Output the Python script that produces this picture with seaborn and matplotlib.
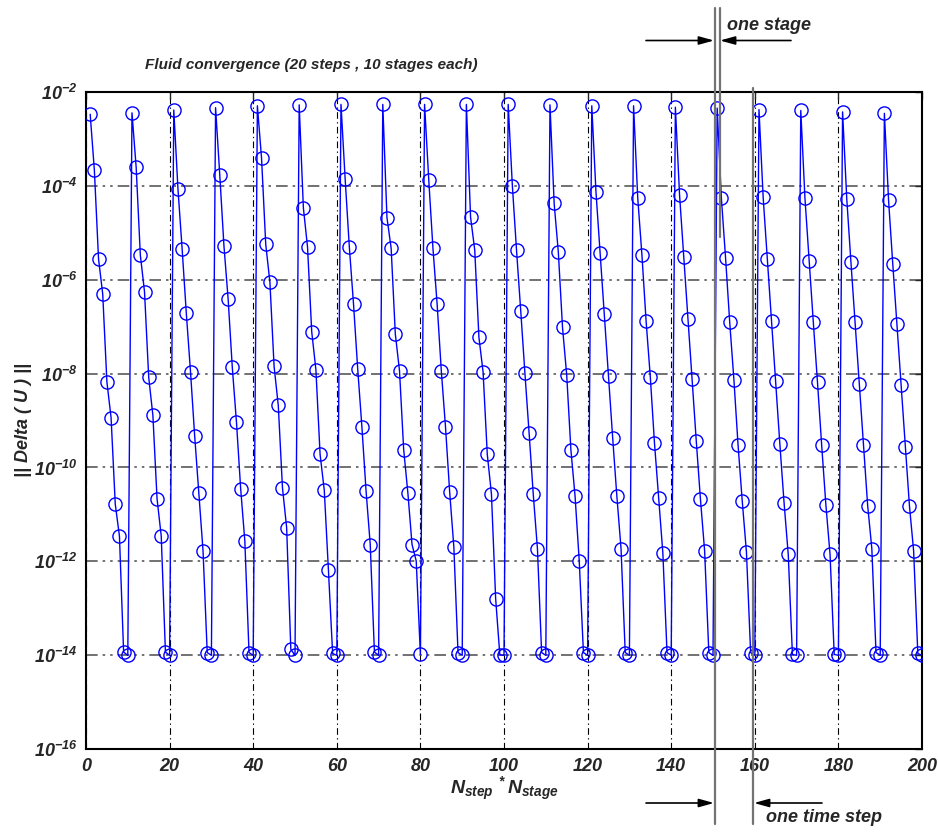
import numpy as np
import pandas as pd
import seaborn as sns
import matplotlib
matplotlib.use("Agg")
import matplotlib.pyplot as plt
from matplotlib.lines import Line2D
from matplotlib.ticker import FixedLocator, FixedFormatter, NullLocator

# log10 of ||Delta(U)|| for the 10 stages of every time step
step_01 = [-2.48, -3.67, -5.56, -6.31, -8.18, -8.94, -10.78, -11.46, -13.93, -14.00]
step_02 = [-2.45, -3.61, -5.48, -6.26, -8.08, -8.89, -10.67, -11.46, -13.93, -14.00]
step_03 = [-2.39, -4.07, -5.35, -6.72, -7.96, -9.33, -10.54, -11.78, -13.94, -14.00]
step_04 = [-2.34, -3.77, -5.28, -6.41, -7.87, -9.04, -10.45, -11.57, -13.94, -14.00]
step_05 = [-2.30, -3.42, -5.25, -6.06, -7.85, -8.68, -10.43, -11.28, -13.87, -14.00]
step_06 = [-2.28, -4.47, -5.31, -7.11, -7.92, -9.72, -10.48, -12.19, -13.96, -14.00]
step_07 = [-2.27, -3.86, -5.31, -6.52, -7.90, -9.13, -10.50, -11.64, -13.93, -14.00]
step_08 = [-2.27, -4.68, -5.33, -7.16, -7.94, -9.62, -10.54, -11.64, -11.99, -13.98]
step_09 = [-2.27, -3.88, -5.33, -6.52, -7.94, -9.13, -10.52, -11.69, -13.94, -14.00]
step_10 = [-2.27, -4.67, -5.37, -7.23, -7.97, -9.72, -10.57, -12.79, -13.99, -14.00]
step_11 = [-2.27, -4.00, -5.38, -6.66, -7.99, -9.26, -10.57, -11.73, -13.94, -14.00]
step_12 = [-2.28, -4.38, -5.42, -7.02, -8.03, -9.62, -10.61, -11.99, -13.94, -14.00]
step_13 = [-2.30, -4.13, -5.44, -6.74, -8.05, -9.37, -10.61, -11.73, -13.94, -14.00]
step_14 = [-2.30, -4.27, -5.48, -6.89, -8.07, -9.48, -10.65, -11.82, -13.94, -14.00]
step_15 = [-2.33, -4.20, -5.51, -6.84, -8.11, -9.44, -10.68, -11.78, -13.94, -14.00]
step_16 = [-2.35, -4.26, -5.53, -6.91, -8.13, -9.53, -10.72, -11.80, -13.94, -14.00]
step_17 = [-2.38, -4.25, -5.56, -6.89, -8.16, -9.51, -10.75, -11.85, -13.98, -14.00]
step_18 = [-2.40, -4.27, -5.60, -6.91, -8.19, -9.53, -10.79, -11.85, -13.98, -14.00]
step_19 = [-2.43, -4.28, -5.63, -6.91, -8.22, -9.53, -10.81, -11.73, -13.94, -14.00]
step_20 = [-2.46, -4.31, -5.66, -6.95, -8.25, -9.56, -10.82, -11.78, -13.96, -14.00]

steps = [step_01, step_02, step_03, step_04, step_05, step_06, step_07, step_08,
         step_09, step_10, step_11, step_12, step_13, step_14, step_15, step_16,
         step_17, step_18, step_19, step_20]

x_ticks = [0, 20, 40, 60, 80, 100, 120, 140, 160, 180, 200]
y_exponents = [-16, -14, -12, -10, -8, -6, -4, -2]
y_tick_labels = [rf"$10^{{{e}}}$" for e in y_exponents]

log_delta = np.concatenate(steps)
df = pd.DataFrame({
    "n": np.arange(1, len(log_delta) + 1),
    "delta": 10.0 ** log_delta,
})

sns.set_style("white")
plt.rcParams["font.family"] = ["Liberation Sans", "DejaVu Sans"]
plt.rcParams["font.weight"] = "bold"
plt.rcParams["font.style"] = "italic"
plt.rcParams["mathtext.fontset"] = "custom"
for key in ("mathtext.rm", "mathtext.it", "mathtext.bf", "mathtext.sf"):
    plt.rcParams[key] = "Liberation Sans:bold:italic"

W, H = 938, 833
fig = plt.figure(figsize=(W / 100, H / 100), dpi=100)
ax = fig.add_axes([86 / W, 1 - 749.3 / H, 836 / W, 657.6 / H])

sns.lineplot(data=df, x="n", y="delta", ax=ax, sort=False, estimator=None,
             color="#0000ff", linewidth=1.0, marker="o", markersize=9.5,
             markerfacecolor="none", markeredgecolor="#0000ff",
             markeredgewidth=1.0, zorder=3)

ax.set_yscale("log")
ax.set_xlim(0, 200)
ax.set_ylim(1e-16, 1e-2)
ax.xaxis.set_major_locator(FixedLocator(x_ticks))
ax.yaxis.set_major_locator(FixedLocator([10.0 ** e for e in y_exponents]))
ax.yaxis.set_major_formatter(FixedFormatter(y_tick_labels))
ax.yaxis.set_minor_locator(NullLocator())

dashdotdot = (0, (7, 3, 1.5, 3, 1.5, 3))
ax.yaxis.grid(True, linestyle=dashdotdot, color="0.35", linewidth=1.2)
ax.xaxis.grid(True, linestyle=(0, (6, 3, 1.2, 3)), color="black", linewidth=0.8)

for side in ax.spines.values():
    side.set_color("black")
    side.set_linewidth(1.5)
ax.tick_params(axis="both", which="major", direction="in", length=5, width=1,
               top=True, right=True, labelsize=13, pad=6)
for lab in ax.get_xticklabels() + ax.get_yticklabels():
    lab.set_fontweight("bold")
    lab.set_fontstyle("italic")

ax.set_xlabel(r"$N_{step}\ ^{*}\,N_{stage}$", fontsize=14, labelpad=0)
ax.set_ylabel("|| Delta ( U ) ||", fontsize=13, fontweight="bold",
              fontstyle="italic", labelpad=1.5)

ax.text((145 - 86) / 836, 1 + (92 - 65) / 657.6,
        "Fluid convergence (20 steps , 10 stages each)",
        transform=ax.transAxes, fontsize=11, fontweight="bold",
        fontstyle="italic", ha="left", va="center")


def fx(px):
    return px / W


def fy(py):
    return 1 - py / H


# bracket lines marking one stage and one time step
for x0, y0, y1 in [(714.5, 8, 824), (719.5, 8, 237), (752.7, 88, 824)]:
    fig.add_artist(Line2D([fx(x0), fx(x0)], [fy(y0), fy(y1)],
                          transform=fig.transFigure, color="0.45",
                          linewidth=1.6, zorder=5))

arrow_kw = dict(xycoords="figure fraction", textcoords="figure fraction",
                arrowprops=dict(arrowstyle="-|>,head_length=0.9,head_width=0.25",
                                color="black", linewidth=1.2,
                                shrinkA=0, shrinkB=0))
ax.annotate("", xy=(fx(714), fy(40.5)), xytext=(fx(646), fy(40.5)), **arrow_kw)
ax.annotate("", xy=(fx(720), fy(40.5)), xytext=(fx(791), fy(40.5)), **arrow_kw)
ax.annotate("", xy=(fx(714), fy(803)), xytext=(fx(646), fy(803)), **arrow_kw)
ax.annotate("", xy=(fx(754), fy(803)), xytext=(fx(822), fy(803)), **arrow_kw)

fig.text(fx(727), fy(26), "one stage", fontsize=13, fontweight="bold",
         fontstyle="italic", ha="left", va="center")
fig.text(fx(766), fy(818), "one time step", fontsize=13, fontweight="bold",
         fontstyle="italic", ha="left", va="center")

fig.savefig("out.png", dpi=100)
